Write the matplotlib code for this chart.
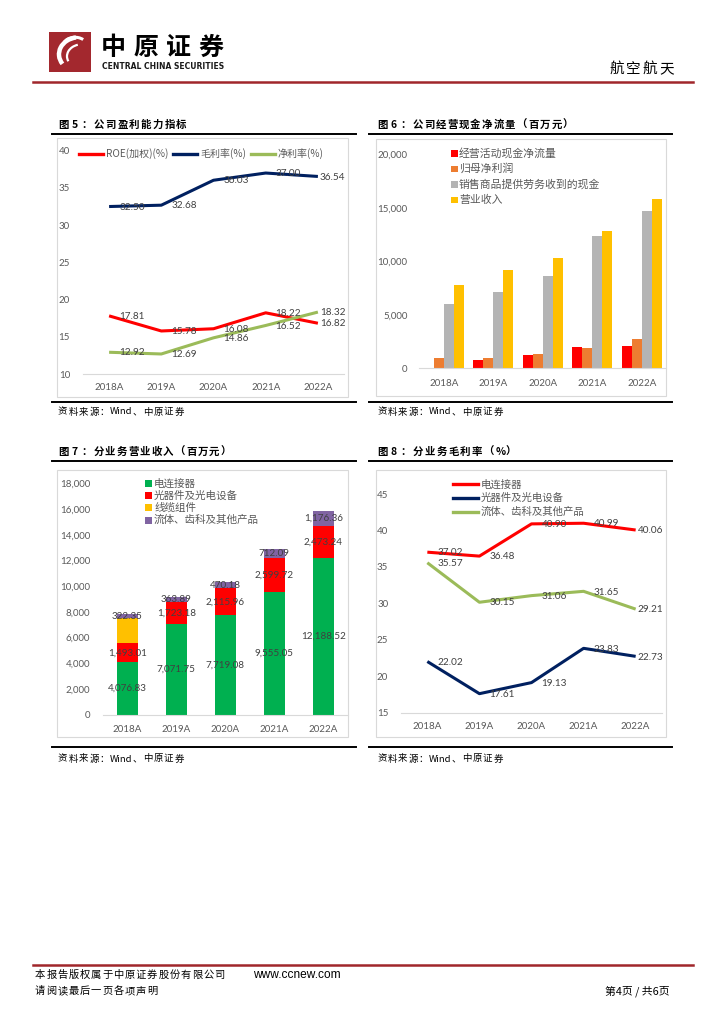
import matplotlib
matplotlib.use('Agg')
import matplotlib.pyplot as plt
from matplotlib.patches import Rectangle, Arc
from matplotlib.lines import Line2D
from matplotlib.ticker import FuncFormatter

# ---------------- data ----------------
years = ['2018A', '2019A', '2020A', '2021A', '2022A']

profit_names = ['ROE(加权)(%)', '毛利率(%)', '净利率(%)']
roe = [17.81, 15.78, 16.08, 18.22, 16.82]
gross_margin = [32.50, 32.68, 36.03, 37.00, 36.54]
net_margin = [12.92, 12.69, 14.86, 16.52, 18.32]

cf_names = ['经营活动现金净流量', '归母净利润', '销售商品提供劳务收到的现金', '营业收入']
op_cashflow = [25, 817, 1252, 2034, 2097]
net_profit = [939, 1005, 1377, 1941, 2692]
cash_received = [6010, 7108, 8638, 12394, 14680]
revenue = [7812, 9159, 10305, 12867, 15838]

seg_names = ['电连接器', '光器件及光电设备', '线缆组件', '流体、齿科及其他产品']
seg_connector = [4076.83, 7071.75, 7719.08, 9555.05, 12188.52]
seg_optical = [1493.01, 1723.18, 2115.96, 2599.72, 2473.24]
seg_cable = [1920.00, 0, 0, 0, 0]
seg_other = [322.35, 363.89, 470.18, 712.09, 1176.36]
seg_show_label = [True, True, False, True]

margin_names = ['电连接器', '光器件及光电设备', '流体、齿科及其他产品']
m_connector = [37.02, 36.48, 40.90, 40.99, 40.06]
m_optical = [22.02, 17.61, 19.13, 23.83, 22.73]
m_other = [35.57, 30.15, 31.06, 31.65, 29.21]

# ---------------- setup ----------------
W, H = 724, 1024
plt.rcParams['font.family'] = ['Lato', 'Noto Sans CJK SC', 'DejaVu Sans']
CJK = ['Noto Sans CJK SC', 'DejaVu Sans']
fig = plt.figure(figsize=(W / 100, H / 100), dpi=100)
fig.patch.set_facecolor('white')

TICK = '#595959'
LBL = '#404040'


def fx(x):
    return x / W


def fy(y):
    return 1 - y / H


def add_ax(x0, y0, x1, y1):
    return fig.add_axes([fx(x0), fy(y1), (x1 - x0) / W, (y1 - y0) / H])


def hline(x0, x1, y, color='black', lw=1.2):
    fig.add_artist(Line2D([fx(x0), fx(x1)], [fy(y), fy(y)], color=color, lw=lw))


def box(x0, y0, x1, y1):
    fig.add_artist(Rectangle((fx(x0), fy(y1)), (x1 - x0) / W, (y1 - y0) / H,
                             fill=False, edgecolor='#D9D9D9', lw=0.8))


def spaced(x, y, s, full, half, space=2, word_adv=5.4, **kw):
    """Letter-spaced text; runs of ASCII letters are kept as one word."""
    cx = x
    i = 0
    while i < len(s):
        ch = s[i]
        if ch == ' ':
            cx += space
            i += 1
            continue
        if ch.isascii() and ch.isalpha():
            j = i
            while j < len(s) and s[j].isascii() and s[j].isalpha():
                j += 1
            word = s[i:j]
            fig.text(fx(cx), fy(y), word, ha='left', va='center', **kw)
            cx += word_adv * len(word) + 2
            i = j
            continue
        fig.text(fx(cx), fy(y), ch, ha='left', va='center', **kw)
        cx += full if ord(ch) > 0x2000 else half
        i += 1


def style(ax, ypad, xpad):
    for s in ['top', 'right', 'left']:
        ax.spines[s].set_visible(False)
    ax.spines['bottom'].set_color('#D9D9D9')
    ax.spines['bottom'].set_linewidth(0.8)
    ax.tick_params(axis='both', length=0, labelsize=7.0, labelcolor=TICK)
    ax.tick_params(axis='y', pad=ypad)
    ax.tick_params(axis='x', pad=xpad)
    ax.set_xlim(-0.5, 4.5)
    ax.set_xticks(range(len(years)))
    ax.set_xticklabels(years)
    ax.patch.set_alpha(0)


def legend_line(x, y, color, label, length=25, gap=3, fs=7.6):
    fig.add_artist(Line2D([fx(x), fx(x + length)], [fy(y), fy(y)], color=color, lw=2.4))
    fig.text(fx(x + length + gap), fy(y), label, ha='left', va='center',
             fontsize=fs, color=TICK, family=CJK)


def legend_sq(x, y, color, label, size=7, gap=3, fs=7.6):
    fig.add_artist(Rectangle((fx(x), fy(y + size / 2)), size / W, size / H,
                             facecolor=color, edgecolor='none'))
    fig.text(fx(x + size + gap), fy(y), label, ha='left', va='center',
             fontsize=fs, color=TICK, family=CJK)


# ---------------- header ----------------
logo = add_ax(49, 32.3, 91, 72.3)
logo.set_xlim(0, 42)
logo.set_ylim(40, 0)
logo.axis('off')
logo.add_patch(Rectangle((0, 0), 42, 40, facecolor='#A3282E', edgecolor='none'))
logo.add_patch(Arc((30, 22), 40, 34, theta1=150, theta2=260, color='white', lw=3.2))
logo.add_patch(Arc((33, 24), 30, 24, theta1=160, theta2=250, color='white', lw=1.6))
logo.add_patch(Arc((26, 12), 22, 14, theta1=190, theta2=330, color='white', lw=2.2))

for i, ch in enumerate('中原证券'):
    fig.text(fx(101 + i * 32.5), fy(48), ch, ha='left', va='center', fontsize=18,
             fontweight='heavy', family=CJK, color='black')
fig.text(fx(102), fy(66.5), 'CENTRAL CHINA SECURITIES', ha='left', va='center',
         fontsize=5.5, fontweight='bold', family=['DejaVu Sans'], color='#1a1a1a')
spaced(609, 69, '航空航天', 16.8, 8, fontsize=10.5, family=CJK, color='black')
hline(33, 693, 81.5, color='#A0262B', lw=1.8)

# ---------------- titles / frames ----------------
TITLE_KW = dict(fontsize=7.5, fontweight='bold', family=CJK, color='black')
SRC_KW = dict(fontsize=6.8, family=CJK, color='black')

spaced(58, 125, '图 5：公司盈利能力指标', 11.8, 10, **TITLE_KW)
spaced(377, 125, '图 6：公司经营现金净流量（百万元）', 11.6, 10, **TITLE_KW)
spaced(58, 452, '图 7：分业务营业收入（百万元）', 11.6, 10, **TITLE_KW)
spaced(377, 452, '图 8：分业务毛利率（%）', 11.8, 10, **TITLE_KW)
for (x0, x1) in [(52, 356), (369, 672)]:
    hline(x0, x1, 134.3, lw=1.4)
    hline(x0, x1, 401.7, lw=1.4)
    hline(x0, x1, 460.7, lw=1.4)
    hline(x0, x1, 746.7, lw=1.4)
for (x, y) in [(58, 412), (377, 412), (58, 759), (377, 759)]:
    spaced(x, y, '资料来源：Wind、中原证券', 10.4, 6.6, word_adv=5.2, **SRC_KW)

box(57, 138, 348, 397)
box(375.7, 139.3, 666, 396)
box(57, 470, 348, 736.7)
box(375.7, 470, 666, 736.7)

xs = list(range(len(years)))


def right_labels(ax, vals):
    for i, v in enumerate(vals):
        dx = 7.2 if i < len(vals) - 1 else 1.5
        ax.annotate(f'{v:.2f}', (i, v), xytext=(dx, -0.5), textcoords='offset points',
                    ha='left', va='center', fontsize=7.2, color=LBL)


# ---------------- chart 5 ----------------
ax5 = add_ax(83, 150.7, 344, 374)
style(ax5, ypad=9.4, xpad=6.4)
ax5.set_ylim(10, 40)
ax5.set_yticks(range(10, 41, 5))
c5 = ['#FF0000', '#002060', '#9BBB59']
for vals, col in zip([roe, gross_margin, net_margin], c5):
    ax5.plot(xs, vals, color=col, lw=2.2, solid_joinstyle='round', solid_capstyle='butt')
for vals in [roe, gross_margin, net_margin]:
    right_labels(ax5, vals)
lx = 79
label_w = [61, 45, 45]
for name, col, w in zip(profit_names, c5, label_w):
    legend_line(lx, 154, col, name, length=24, gap=3, fs=7.2)
    lx = lx + 24 + 3 + w + 6

# ---------------- chart 6 ----------------
ax6 = add_ax(419.3, 154.3, 666.4, 368.3)
style(ax6, ypad=8.4, xpad=7.7)
ax6.set_ylim(0, 20000)
ax6.set_yticks(range(0, 20001, 5000))
ax6.yaxis.set_major_formatter(FuncFormatter(lambda v, p: f'{v:,.0f}'))
c6 = ['#FF0000', '#ED7D31', '#B4B4B4', '#FFC000']
bw = 0.2025
for j, (vals, col) in enumerate(zip([op_cashflow, net_profit, cash_received, revenue], c6)):
    ax6.bar([x + (j - 1.5) * bw for x in xs], vals, width=bw, color=col, edgecolor='none')
for k, (name, col) in enumerate(zip(cf_names, c6)):
    legend_sq(451, 153.3 + k * 15.6, col, name, size=6.5, gap=1.5, fs=7.8)

# ---------------- chart 7 ----------------
ax7 = add_ax(102.8, 483.3, 347.8, 714.7)
style(ax7, ypad=9.2, xpad=7.1)
ax7.set_ylim(0, 18000)
ax7.set_yticks(range(0, 18001, 2000))
ax7.yaxis.set_major_formatter(FuncFormatter(lambda v, p: f'{v:,.0f}'))
c7 = ['#00B050', '#FF0000', '#FFC000', '#8064A2']
bottom = [0.0] * len(years)
for vals, col, show in zip([seg_connector, seg_optical, seg_cable, seg_other], c7, seg_show_label):
    ax7.bar(xs, vals, width=0.42, bottom=bottom, color=col, edgecolor='none')
    if show:
        for i, v in enumerate(vals):
            if v > 0:
                ax7.text(i, bottom[i] + v / 2, f'{v:,.2f}', ha='center', va='center',
                         fontsize=7.1, color=LBL)
    bottom = [b + v for b, v in zip(bottom, vals)]
for k, (name, col) in enumerate(zip(seg_names, c7)):
    legend_sq(145, 483.3 + k * 12.3, col, name, size=7, gap=2, fs=7.6)

# ---------------- chart 8 ----------------
ax8 = add_ax(401.3, 494, 661.7, 712.7)
style(ax8, ypad=9.4, xpad=6.9)
ax8.set_ylim(15, 45)
ax8.set_yticks(range(15, 46, 5))
c8 = ['#FF0000', '#002060', '#9BBB59']
for vals, col in zip([m_connector, m_optical, m_other], c8):
    ax8.plot(xs, vals, color=col, lw=2.2, solid_joinstyle='round', solid_capstyle='butt')
    right_labels(ax8, vals)
for k, (name, col) in enumerate(zip(margin_names, c8)):
    legend_line(453, 484.3 + k * 13.7, col, name, length=25, gap=3, fs=7.5)

# ---------------- footer ----------------
hline(33, 693, 965, color='#A0262B', lw=1.8)
spaced(35, 975, '本报告版权属于中原证券股份有限公司', 11.2, 6, fontsize=7.4, family=CJK, color='black')
fig.text(fx(253), fy(975), 'www.ccnew.com', ha='left', va='center', fontsize=8.6,
         family=['Liberation Sans'], color='black')
spaced(35, 991, '请阅读最后一页各项声明', 11.2, 6, fontsize=7.4, family=CJK, color='black')
fig.text(fx(670), fy(991), '第4页 / 共6页', ha='right', va='center', fontsize=7.8,
         family=CJK, color='black')

fig.savefig('out.png', dpi=100, facecolor='white')
